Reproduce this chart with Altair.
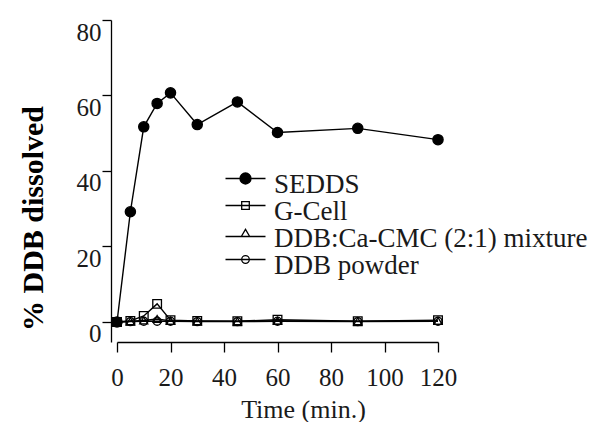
import altair as alt
import pandas as pd

# Sampling times (min.)
times = [0, 5, 10, 15, 20, 30, 45, 60, 90, 120]

# % DDB dissolved for each formulation
sedds = [0, 29.2, 51.7, 57.9, 60.7, 52.3, 58.3, 50.2, 51.3, 48.3]
g_cell = [0, 0.3, 1.6, 4.8, 0.5, 0.3, 0.2, 0.6, 0.2, 0.5]
ca_cmc = [0, 0.2, 0.4, 0.8, 0.3, 0.2, 0.2, 0.3, 0.2, 0.3]
powder = [0, 0.1, 0.2, 0.2, 0.2, 0.1, 0.1, 0.2, 0.1, 0.2]

series_names = ["SEDDS", "G-Cell", "DDB:Ca-CMC (2:1) mixture", "DDB powder"]
marker_shapes = ["circle", "square", "triangle-up", "circle"]
marker_fills = ["black", "transparent", "transparent", "transparent"]
marker_sizes = [105, 75, 65, 65]
x_ticks = [0, 20, 40, 60, 80, 100, 120]
y_ticks = [0, 20, 40, 60, 80]

rows = []
for name, vals in zip(series_names, [sedds, g_cell, ca_cmc, powder]):
    for t, v in zip(times, vals):
        rows.append({"time": t, "dissolved": v, "series": name})
df = pd.DataFrame(rows)

FONT = "Liberation Serif"

x_enc = alt.X(
    "time:Q",
    scale=alt.Scale(domain=[0, 120], nice=False),
    axis=alt.Axis(
        values=x_ticks, title="Time (min.)", grid=False,
        domainColor="black", domainWidth=1.3, tickColor="black", tickWidth=1.3,
        tickSize=10, labelFont=FONT, labelFontSize=25, labelColor="#1a1a1a",
        labelBaseline="top", labelPadding=13, labelFlush=False,
        titleFont=FONT, titleFontSize=26, titleFontWeight="normal",
        titleColor="#1a1a1a", titleBaseline="alphabetic", titleX=186, titleY=75,
        titleAlign="center",
    ),
)
y_enc = alt.Y(
    "dissolved:Q",
    scale=alt.Scale(domain=[-5.3, 80], nice=False, zero=False),
    axis=alt.Axis(
        values=y_ticks, title="% DDB dissolved", grid=False, offset=6,
        domainColor="black", domainWidth=1.3, tickColor="black", tickWidth=1.3,
        tickSize=9, labelFont=FONT, labelFontSize=25, labelColor="#1a1a1a",
        labelBaseline="top", labelPadding=1, labelFlush=False,
        titleFont=FONT, titleFontSize=30, titleFontWeight="bold",
        titleColor="black", titleBaseline="alphabetic", titleAngle=270,
        titleX=-69, titleY=198, titleAlign="center",
    ),
)

base = alt.Chart(df)

lines = base.mark_line(color="black", strokeWidth=1.4).encode(
    x=x_enc, y=y_enc, detail="series:N"
)

# One marker layer per formulation, drawn so SEDDS ends up on top
marker_layers = []
for name, shp, fil, sz in reversed(list(zip(series_names, marker_shapes,
                                            marker_fills, marker_sizes))):
    marker_layers.append(
        base.transform_filter(alt.datum.series == name).mark_point(
            shape=shp, filled=True, fill=fil, stroke="black",
            strokeWidth=1.3, size=sz, opacity=1,
        ).encode(x=x_enc, y=y_enc)
    )

# Legend glyphs: a short line segment through each marker, raised a little
# above the label's centre line
legend_paths = [
    "M-2,-0.6H2M0.55,-0.6A0.55,0.55,0,1,1,-0.55,-0.6A0.55,0.55,0,1,1,0.55,-0.6Z",
    "M-2,-0.6H2M-0.38,-0.98H0.38V-0.22H-0.38Z",
    "M-2,-0.2H2M-0.42,-0.2L0,-0.92L0.42,-0.2Z",
    "M-2,-0.6H2M0.38,-0.6A0.38,0.38,0,1,1,-0.38,-0.6A0.38,0.38,0,1,1,0.38,-0.6Z",
]
legend_spec = alt.Legend(
    title=None, orient="none", legendX=115, legendY=151, padding=0,
    symbolSize=400, symbolStrokeWidth=1.3, symbolOpacity=1,
    labelFont=FONT, labelFontSize=27, labelColor="#1a1a1a",
    labelOffset=15, rowPadding=-20, labelLimit=400,
)
ink = ["black"] * len(series_names)
legend_layer = base.transform_filter(
    alt.datum.time < 0
).mark_point(filled=True, strokeWidth=1.3).encode(
    x=x_enc,
    y=y_enc,
    shape=alt.Shape("series:N", scale=alt.Scale(domain=series_names, range=legend_paths),
                    legend=legend_spec),
    fill=alt.Fill("series:N", scale=alt.Scale(domain=series_names, range=marker_fills),
                  legend=legend_spec),
    stroke=alt.Stroke("series:N", scale=alt.Scale(domain=series_names, range=ink),
                      legend=legend_spec),
)

chart = alt.layer(lines, *marker_layers, legend_layer).properties(
    width=321, height=322,
    autosize=alt.AutoSizeParams(type="none"),
    padding={"left": 117, "top": 20, "right": 158, "bottom": 80},
    background="white",
).configure_view(stroke=None)

chart.save("out.html", embed_options={"renderer": "svg", "actions": False})
